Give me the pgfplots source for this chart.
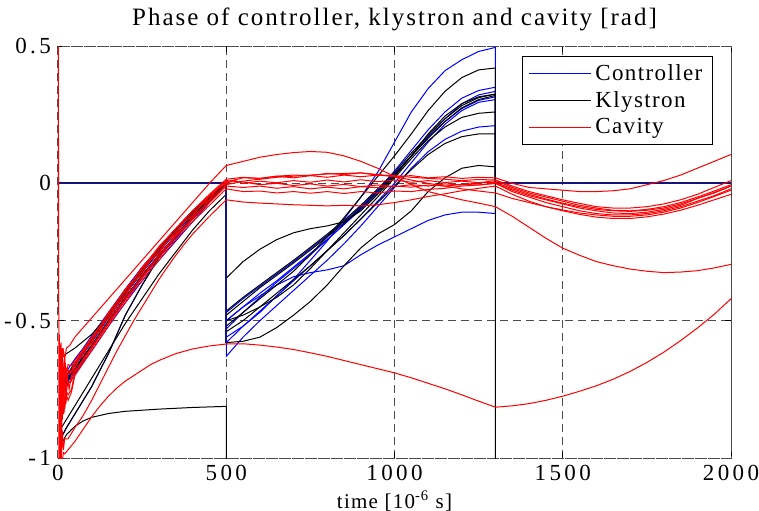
\documentclass[border=0pt]{standalone}
\usepackage{fontspec}
\setmainfont{Liberation Serif}[LetterSpace=6]
\newfontfamily\titlefont{Liberation Serif}[LetterSpace=8]
\newfontfamily\tickfont{Liberation Serif}[LetterSpace=15]
\usepackage{pgfplots}
\pgfplotsset{compat=1.18}
\definecolor{mblue}{rgb}{0,0,1}
\definecolor{mred}{rgb}{1,0,0}
\definecolor{navy}{rgb}{0.08,0.08,0.5}
\begin{document}
\begin{tikzpicture}
\useasboundingbox (-29pt,-26pt) rectangle (350.5pt,229pt);
\begin{axis}[
 scale only axis, width=336.5pt, height=206pt,
 xmin=0, xmax=2000, ymin=-1, ymax=0.5,
 xtick={0,500,1000,1500,2000}, xticklabels={0,500,1000,1500,2000},
 ytick={-1,-0.5,0,0.5}, yticklabels={-1,-0.5,0,0.5},
 tick label style={font=\fontsize{11.5}{13}\tickfont},
 grid=major,
 major grid style={dash pattern=on 4pt off 2.5pt, black!70, line width=0.5pt},
 axis line style={dash pattern=on 4pt off 2.5pt, black!70, line width=0.5pt},
 tick align=inside, major tick length=3pt, tick style={solid, black, line width=0.5pt},
 title={Phase of controller, klystron and cavity [rad]},
 title style={font=\fontsize{12.5}{14}\titlefont, yshift=-2pt},
 xlabel={time [10\textsuperscript{-6} s]},
 xlabel style={font=\fontsize{10.5}{12}\selectfont, yshift=2pt},
 legend style={at={(0.973,0.976)}, anchor=north east, draw=black, line width=0.5pt,
   font=\fontsize{11.5}{13}\selectfont, fill=white},
 legend cell align=left,
 legend image code/.code={\draw[#1] (0pt,0pt) -- (31pt,0pt);},
 every axis plot/.append style={line width=0.5pt},
]
\addlegendimage{mblue, line width=0.5pt}
\addlegendentry{Controller}
\addlegendimage{black, line width=0.5pt}
\addlegendentry{Klystron}
\addlegendimage{mred, line width=0.5pt}
\addlegendentry{Cavity}

% ---------------- Controller (blue) ----------------
\addplot[mblue, forget plot] coordinates {(5,-0.72) (25,-0.70) (50,-0.655) (75,-0.61) (100,-0.57) (150,-0.48) (200,-0.395) (250,-0.315) (300,-0.24) (350,-0.17) (400,-0.105) (450,-0.05) (500,0) (500,-0.50) (550,-0.45) (600,-0.40) (650,-0.355) (700,-0.305) (750,-0.255) (800,-0.205) (850,-0.15) (900,-0.095) (950,-0.035) (1000,0.03) (1050,0.10) (1100,0.17) (1150,0.235) (1200,0.29) (1250,0.322) (1300,0.335) (1300,0)};
\addplot[mblue, forget plot] coordinates {(5,-0.70) (25,-0.685) (50,-0.64) (75,-0.60) (100,-0.555) (150,-0.47) (200,-0.385) (250,-0.305) (300,-0.235) (350,-0.165) (400,-0.10) (450,-0.045) (500,0) (500,-0.56) (550,-0.52) (600,-0.47) (650,-0.41) (700,-0.35) (750,-0.28) (800,-0.21) (850,-0.13) (900,-0.05) (950,0.04) (1000,0.15) (1050,0.26) (1100,0.345) (1150,0.41) (1200,0.45) (1250,0.48) (1300,0.495) (1300,0)};
\addplot[mblue, forget plot] coordinates {(5,-0.74) (25,-0.715) (50,-0.675) (75,-0.63) (100,-0.59) (150,-0.50) (200,-0.415) (250,-0.335) (300,-0.26) (350,-0.19) (400,-0.125) (450,-0.06) (500,0) (500,-0.50) (550,-0.45) (600,-0.41) (650,-0.37) (700,-0.34) (750,-0.325) (800,-0.315) (850,-0.30) (900,-0.26) (950,-0.225) (1000,-0.195) (1050,-0.165) (1100,-0.135) (1150,-0.115) (1200,-0.105) (1250,-0.105) (1300,-0.11) (1300,0)};
\addplot[mblue, forget plot] coordinates {(5,-0.76) (25,-0.73) (50,-0.685) (75,-0.64) (100,-0.60) (150,-0.51) (200,-0.425) (250,-0.345) (300,-0.27) (350,-0.20) (400,-0.13) (450,-0.065) (500,0) (500,-0.63) (550,-0.56) (600,-0.50) (650,-0.445) (700,-0.39) (750,-0.335) (800,-0.28) (850,-0.22) (900,-0.155) (950,-0.085) (1000,-0.015) (1050,0.055) (1100,0.115) (1150,0.16) (1200,0.19) (1250,0.205) (1300,0.21) (1300,0)};
\addplot[mblue, forget plot] coordinates {(5,-0.73) (25,-0.71) (50,-0.665) (75,-0.62) (100,-0.58) (150,-0.49) (200,-0.405) (250,-0.325) (300,-0.25) (350,-0.18) (400,-0.115) (450,-0.055) (500,0) (500,-0.53) (550,-0.47) (600,-0.415) (650,-0.36) (700,-0.31) (750,-0.26) (800,-0.205) (850,-0.15) (900,-0.09) (950,-0.025) (1000,0.045) (1050,0.12) (1100,0.195) (1150,0.26) (1200,0.31) (1250,0.338) (1300,0.35) (1300,0)};
\addplot[mblue, forget plot] coordinates {(8,-0.93) (25,-0.89) (50,-0.84) (100,-0.74) (150,-0.62) (200,-0.48) (250,-0.37) (300,-0.27) (350,-0.19) (400,-0.12) (450,-0.055) (500,0) (500,-0.47) (550,-0.42) (600,-0.375) (650,-0.33) (700,-0.285) (750,-0.238) (800,-0.19) (850,-0.14) (900,-0.085) (950,-0.025) (1000,0.035) (1050,0.10) (1100,0.165) (1150,0.225) (1200,0.272) (1250,0.302) (1300,0.315) (1300,0)};
\addplot[mblue, forget plot] coordinates {(5,-0.75) (25,-0.74) (50,-0.695) (75,-0.65) (100,-0.61) (150,-0.52) (200,-0.435) (250,-0.355) (300,-0.28) (350,-0.21) (400,-0.14) (450,-0.07) (500,0) (500,-0.58) (550,-0.52) (600,-0.465) (650,-0.41) (700,-0.355) (750,-0.30) (800,-0.245) (850,-0.19) (900,-0.13) (950,-0.065) (1000,0.0) (1050,0.075) (1100,0.15) (1150,0.215) (1200,0.265) (1250,0.295) (1300,0.305) (1300,0)};

% ---------------- Klystron (black) ----------------
\addplot[black, forget plot] coordinates {(3,-1.05) (10,-0.95) (25,-0.915) (50,-0.885) (75,-0.865) (100,-0.852) (150,-0.838) (200,-0.83) (300,-0.822) (400,-0.816) (500,-0.812) (500,-1.3) (1300,-1.3) (1300,0)};
\addplot[black, forget plot] coordinates {(8,-0.93) (25,-0.89) (50,-0.84) (100,-0.74) (150,-0.62) (200,-0.48) (250,-0.37) (300,-0.27) (350,-0.19) (400,-0.12) (450,-0.055) (500,0) (500,-0.465) (550,-0.415) (600,-0.37) (650,-0.325) (700,-0.28) (750,-0.233) (800,-0.185) (850,-0.135) (900,-0.08) (950,-0.02) (1000,0.04) (1050,0.11) (1100,0.175) (1150,0.235) (1200,0.283) (1250,0.312) (1300,0.325) (1300,0)};
\addplot[black, forget plot] coordinates {(5,-0.64) (25,-0.62) (50,-0.60) (75,-0.575) (100,-0.55) (150,-0.48) (200,-0.40) (250,-0.32) (300,-0.245) (350,-0.175) (400,-0.11) (450,-0.05) (500,0) (500,-0.345) (550,-0.285) (600,-0.24) (650,-0.205) (700,-0.18) (750,-0.165) (800,-0.155) (850,-0.14) (900,-0.10) (950,-0.04) (1000,0.025) (1050,0.10) (1100,0.18) (1150,0.245) (1200,0.29) (1250,0.315) (1300,0.325) (1300,0)};
\addplot[black, forget plot] coordinates {(5,-0.90) (25,-0.86) (50,-0.81) (75,-0.76) (100,-0.71) (150,-0.61) (200,-0.51) (250,-0.42) (300,-0.33) (350,-0.25) (400,-0.17) (450,-0.10) (500,-0.04) (500,-0.58) (550,-0.575) (600,-0.56) (650,-0.525) (700,-0.48) (750,-0.43) (800,-0.37) (850,-0.30) (900,-0.235) (950,-0.185) (1000,-0.15) (1050,-0.10) (1100,-0.03) (1150,0.02) (1200,0.055) (1250,0.065) (1300,0.06) (1300,0)};
\addplot[black, forget plot] coordinates {(5,-0.74) (25,-0.72) (50,-0.675) (75,-0.63) (100,-0.59) (150,-0.50) (200,-0.415) (250,-0.335) (300,-0.26) (350,-0.19) (400,-0.125) (450,-0.06) (500,0) (500,-0.52) (550,-0.47) (600,-0.42) (650,-0.37) (700,-0.32) (750,-0.26) (800,-0.195) (850,-0.125) (900,-0.05) (950,0.025) (1000,0.10) (1050,0.18) (1100,0.265) (1150,0.335) (1200,0.385) (1250,0.413) (1300,0.42) (1300,0)};
\addplot[black, forget plot] coordinates {(5,-0.72) (25,-0.70) (50,-0.655) (75,-0.61) (100,-0.57) (150,-0.48) (200,-0.395) (250,-0.315) (300,-0.24) (350,-0.17) (400,-0.105) (450,-0.05) (500,0) (500,-0.54) (550,-0.50) (600,-0.45) (650,-0.40) (700,-0.35) (750,-0.30) (800,-0.245) (850,-0.19) (900,-0.13) (950,-0.07) (1000,-0.01) (1050,0.05) (1100,0.105) (1150,0.145) (1200,0.17) (1250,0.18) (1300,0.18) (1300,0)};
\addplot[black, forget plot] coordinates {(5,-0.75) (25,-0.725) (50,-0.68) (75,-0.635) (100,-0.595) (150,-0.505) (200,-0.42) (250,-0.34) (300,-0.265) (350,-0.195) (400,-0.13) (450,-0.065) (500,0) (500,-0.50) (550,-0.48) (600,-0.45) (650,-0.415) (700,-0.37) (750,-0.31) (800,-0.245) (850,-0.18) (900,-0.115) (950,-0.05) (1000,0.02) (1050,0.09) (1100,0.155) (1150,0.205) (1200,0.24) (1250,0.255) (1300,0.26) (1300,0)};
\addplot[black, forget plot] coordinates {(5,-0.73) (25,-0.705) (50,-0.66) (75,-0.615) (100,-0.575) (150,-0.485) (200,-0.40) (250,-0.32) (300,-0.245) (350,-0.175) (400,-0.11) (450,-0.052) (500,0) (500,-0.48) (550,-0.43) (600,-0.38) (650,-0.335) (700,-0.29) (750,-0.243) (800,-0.195) (850,-0.145) (900,-0.09) (950,-0.03) (1000,0.03) (1050,0.10) (1100,0.165) (1150,0.225) (1200,0.275) (1250,0.305) (1300,0.32) (1300,0)};

% controller and klystron traces lying on top of each other
\addplot[navy, line width=0.9pt, forget plot] coordinates {(0,0) (500,0) (500,-0.58)};
\addplot[navy, line width=0.9pt, forget plot] coordinates {(1300,0) (2000,0)};

% ---------------- Cavity (red) ----------------
\addplot[mred, forget plot] coordinates {(0,-0.2) (1,0.6) (2,-0.3) (3,-1.05) (5,-0.62) (7,-0.98) (9,-0.68) (11,-0.92) (14,-0.64) (17,-0.84) (20,-0.68) (24,-0.8) (28,-0.7) (33,-0.75) (40,-0.7) (50,-0.675) (62,-0.64) (75,-0.63) (87,-0.595) (100,-0.585) (112,-0.55) (125,-0.54) (137,-0.505) (150,-0.495) (175,-0.445) (200,-0.41) (225,-0.36) (250,-0.33) (275,-0.28) (300,-0.255) (325,-0.21) (350,-0.185) (375,-0.14) (400,-0.12) (425,-0.08) (450,-0.06) (475,-0.02) (500,0.0) (525,0.01) (550,0.0) (600,0.008) (650,0.002) (700,0.01) (750,0.004) (800,0.012) (850,0.005) (900,0.013) (950,0.006) (1000,0.012) (1050,0.004) (1100,0.01) (1150,0.003) (1200,0.008) (1250,0.002) (1300,0.01) (1350,-0.015) (1400,-0.035) (1450,-0.05) (1500,-0.065) (1550,-0.08) (1600,-0.09) (1650,-0.098) (1700,-0.1) (1750,-0.095) (1800,-0.085) (1850,-0.07) (1900,-0.05) (1950,-0.028) (2000,-0.005)};
\addplot[mred, forget plot] coordinates {(4,-0.58) (6,-0.8) (8,-0.62) (10,-0.74) (13,-0.6) (16,-0.72) (20,-0.64) (25,-0.69) (30,-0.66) (40,-0.665) (50,-0.645) (75,-0.605) (100,-0.56) (125,-0.52) (150,-0.47) (175,-0.43) (200,-0.385) (225,-0.35) (250,-0.305) (275,-0.27) (300,-0.23) (350,-0.165) (400,-0.10) (450,-0.04) (500,0.015) (550,0.022) (600,0.018) (650,0.026) (700,0.02) (750,0.028) (800,0.022) (850,0.03) (900,0.024) (950,0.03) (1000,0.025) (1050,0.028) (1100,0.02) (1150,0.024) (1200,0.018) (1250,0.022) (1300,0.02) (1350,0.0) (1400,-0.015) (1450,-0.02) (1500,-0.025) (1550,-0.03) (1600,-0.03) (1650,-0.027) (1700,-0.02) (1750,-0.005) (1800,0.01) (1850,0.03) (1900,0.055) (1950,0.08) (2000,0.105)};
\addplot[mred, forget plot] coordinates {(4,-0.9) (6,-0.7) (8,-0.88) (10,-0.72) (13,-0.84) (16,-0.74) (20,-0.8) (25,-0.76) (30,-0.77) (40,-0.75) (50,-0.69) (75,-0.645) (100,-0.6) (125,-0.555) (150,-0.51) (175,-0.465) (200,-0.425) (225,-0.38) (250,-0.345) (275,-0.305) (300,-0.27) (350,-0.195) (400,-0.13) (450,-0.07) (500,-0.01) (550,-0.015) (600,-0.01) (650,-0.018) (700,-0.012) (750,-0.02) (800,-0.014) (850,-0.02) (900,-0.012) (950,-0.016) (1000,-0.01) (1050,-0.014) (1100,-0.006) (1150,-0.01) (1200,-0.004) (1250,-0.006) (1300,0.0) (1350,-0.025) (1400,-0.045) (1450,-0.06) (1500,-0.075) (1550,-0.09) (1600,-0.1) (1650,-0.108) (1700,-0.11) (1750,-0.105) (1800,-0.095) (1850,-0.08) (1900,-0.055) (1950,-0.035) (2000,-0.01)};
\addplot[mred, forget plot] coordinates {(4,-0.65) (6,-0.85) (8,-0.66) (10,-0.78) (13,-0.64) (16,-0.75) (20,-0.66) (25,-0.72) (30,-0.68) (40,-0.69) (50,-0.66) (75,-0.615) (100,-0.575) (125,-0.53) (150,-0.485) (175,-0.44) (200,-0.40) (225,-0.36) (250,-0.32) (275,-0.28) (300,-0.245) (350,-0.175) (400,-0.11) (450,-0.05) (500,0.005) (550,0.02) (600,0.018) (650,0.026) (700,0.03) (750,0.028) (800,0.036) (850,0.032) (900,0.038) (950,0.03) (1000,0.028) (1050,0.022) (1100,0.018) (1150,0.015) (1200,0.01) (1250,0.014) (1300,0.012) (1350,-0.01) (1400,-0.03) (1450,-0.045) (1500,-0.06) (1550,-0.073) (1600,-0.085) (1650,-0.09) (1700,-0.09) (1750,-0.085) (1800,-0.075) (1850,-0.06) (1900,-0.04) (1950,-0.015) (2000,0.01)};
\addplot[mred, forget plot] coordinates {(4,-0.95) (6,-0.72) (8,-0.92) (10,-0.75) (13,-0.86) (16,-0.76) (20,-0.82) (25,-0.77) (30,-0.79) (40,-0.76) (50,-0.7) (75,-0.655) (100,-0.61) (125,-0.565) (150,-0.52) (175,-0.475) (200,-0.435) (225,-0.39) (250,-0.355) (275,-0.315) (300,-0.28) (350,-0.205) (400,-0.14) (450,-0.08) (500,-0.02) (550,-0.03) (600,-0.028) (650,-0.035) (700,-0.03) (750,-0.036) (800,-0.03) (850,-0.037) (900,-0.03) (950,-0.035) (1000,-0.028) (1050,-0.03) (1100,-0.022) (1150,-0.018) (1200,-0.01) (1250,-0.006) (1300,0.0) (1350,-0.03) (1400,-0.05) (1450,-0.07) (1500,-0.085) (1550,-0.1) (1600,-0.11) (1650,-0.115) (1700,-0.115) (1750,-0.11) (1800,-0.1) (1850,-0.085) (1900,-0.065) (1950,-0.045) (2000,-0.02)};
\addplot[mred, forget plot] coordinates {(4,-0.55) (6,-0.72) (9,-0.58) (12,-0.68) (15,-0.6) (20,-0.64) (25,-0.6) (35,-0.59) (50,-0.56) (75,-0.525) (100,-0.49) (125,-0.455) (150,-0.42) (175,-0.385) (200,-0.35) (225,-0.315) (250,-0.28) (275,-0.245) (300,-0.21) (350,-0.14) (400,-0.07) (450,-0.0) (500,0.065) (550,0.08) (600,0.095) (650,0.105) (700,0.112) (750,0.116) (800,0.113) (850,0.1) (900,0.08) (950,0.055) (1000,0.025) (1050,-0.005) (1100,-0.03) (1150,-0.045) (1200,-0.06) (1250,-0.072) (1300,-0.085) (1350,-0.12) (1400,-0.16) (1450,-0.2) (1500,-0.236) (1550,-0.262) (1600,-0.285) (1650,-0.3) (1700,-0.312) (1750,-0.32) (1800,-0.325) (1850,-0.323) (1900,-0.318) (1950,-0.308) (2000,-0.295)};
\addplot[mred, forget plot] coordinates {(4,-1.05) (7,-0.85) (10,-1.0) (13,-0.9) (16,-0.97) (20,-0.93) (30,-0.93) (50,-0.89) (75,-0.845) (100,-0.79) (125,-0.73) (150,-0.67) (175,-0.61) (200,-0.555) (225,-0.5) (250,-0.45) (275,-0.4) (300,-0.35) (325,-0.305) (350,-0.262) (375,-0.222) (400,-0.185) (450,-0.12) (500,-0.06) (550,-0.068) (600,-0.072) (650,-0.075) (700,-0.078) (750,-0.08) (800,-0.082) (850,-0.08) (900,-0.082) (950,-0.078) (1000,-0.07) (1050,-0.06) (1100,-0.048) (1150,-0.038) (1200,-0.027) (1250,-0.018) (1300,-0.01) (1350,-0.04) (1400,-0.065) (1450,-0.085) (1500,-0.1) (1550,-0.113) (1600,-0.123) (1650,-0.128) (1700,-0.128) (1750,-0.122) (1800,-0.112) (1850,-0.098) (1900,-0.08) (1950,-0.06) (2000,-0.04)};
\addplot[mred, forget plot] coordinates {(4,-1.1) (8,-0.98) (12,-1.02) (16,-0.98) (20,-0.985) (30,-0.97) (50,-0.94) (75,-0.895) (100,-0.85) (125,-0.81) (150,-0.775) (175,-0.745) (200,-0.72) (225,-0.7) (250,-0.68) (275,-0.66) (300,-0.645) (350,-0.62) (400,-0.603) (450,-0.592) (500,-0.585) (550,-0.584) (600,-0.589) (650,-0.596) (700,-0.605) (750,-0.617) (800,-0.63) (850,-0.645) (900,-0.66) (950,-0.675) (1000,-0.69) (1050,-0.708) (1100,-0.728) (1150,-0.748) (1200,-0.77) (1250,-0.793) (1300,-0.815) (1350,-0.81) (1400,-0.802) (1450,-0.79) (1500,-0.775) (1550,-0.757) (1600,-0.737) (1650,-0.713) (1700,-0.685) (1750,-0.652) (1800,-0.615) (1850,-0.573) (1900,-0.527) (1950,-0.477) (2000,-0.42)};
\addplot[mred, forget plot] coordinates {(4,-0.78) (7,-0.62) (10,-0.76) (13,-0.66) (17,-0.72) (22,-0.67) (28,-0.7) (40,-0.68) (50,-0.655) (75,-0.61) (100,-0.565) (125,-0.52) (150,-0.475) (175,-0.43) (200,-0.39) (225,-0.35) (250,-0.31) (275,-0.272) (300,-0.235) (350,-0.165) (400,-0.1) (450,-0.045) (500,0.01) (550,0.005) (600,-0.005) (650,0.0) (700,-0.008) (750,-0.002) (800,-0.01) (850,-0.004) (900,-0.012) (950,-0.006) (1000,-0.012) (1050,-0.005) (1100,-0.01) (1150,-0.002) (1200,-0.006) (1250,0.002) (1300,0.004) (1350,-0.02) (1400,-0.04) (1450,-0.057) (1500,-0.072) (1550,-0.085) (1600,-0.095) (1650,-0.1) (1700,-0.102) (1750,-0.098) (1800,-0.09) (1850,-0.075) (1900,-0.055) (1950,-0.033) (2000,-0.01)};
\addplot[mred, forget plot] coordinates {(4,-0.7) (7,-0.88) (10,-0.7) (13,-0.82) (17,-0.72) (22,-0.78) (28,-0.73) (40,-0.72) (50,-0.685) (75,-0.64) (100,-0.595) (125,-0.55) (150,-0.505) (175,-0.46) (200,-0.42) (225,-0.378) (250,-0.34) (275,-0.3) (300,-0.262) (350,-0.19) (400,-0.125) (450,-0.062) (500,-0.005) (550,0.008) (600,0.015) (650,0.022) (700,0.026) (750,0.03) (800,0.034) (850,0.036) (900,0.038) (950,0.032) (1000,0.025) (1050,0.012) (1100,0.0) (1150,-0.01) (1200,-0.02) (1250,-0.028) (1300,-0.035) (1350,-0.055) (1400,-0.07) (1450,-0.085) (1500,-0.097) (1550,-0.108) (1600,-0.115) (1650,-0.12) (1700,-0.12) (1750,-0.115) (1800,-0.105) (1850,-0.09) (1900,-0.07) (1950,-0.048) (2000,-0.025)};
\end{axis}
\end{tikzpicture}
\end{document}
